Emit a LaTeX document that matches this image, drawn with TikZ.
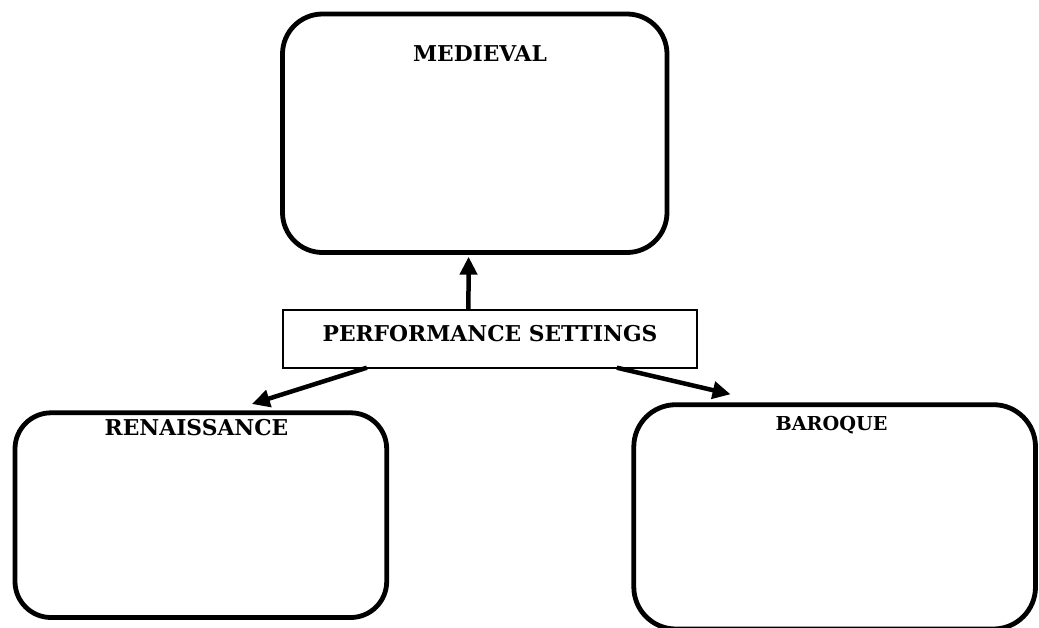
\documentclass[tikz,border=0pt]{standalone}
\usepackage{fontspec}
\setmainfont{DejaVu Serif}
\usetikzlibrary{arrows.meta,calc}
\begin{document}
\begin{tikzpicture}[x=1pt,y=-1pt,
  roundbox/.style={draw=black,line width=4.8pt,rounded corners=#1,inner sep=0pt,outer sep=0pt},
  psbox/.style={draw=black,line width=2pt,inner sep=0pt,outer sep=0pt},
  lbl/.style={font=\bfseries\fontsize{21.8}{26}\selectfont,inner sep=0pt,anchor=base},
  arr/.style={line width=4.5pt,-{Triangle[length=18pt,width=17pt]}}
]
\useasboundingbox (0,0) rectangle (1039,627);
\fill[white] (0,0) rectangle (1039,627);
\clip (0,0) rectangle (1039,627);
% boxes
\node[roundbox=40pt,minimum width=384.5pt,minimum height=238.5pt] (med) at (474.75,133.25) {};
\node[roundbox=36pt,minimum width=371.7pt,minimum height=204.7pt] (ren) at (200.85,515.15) {};
\node[roundbox=42pt,minimum width=401.7pt,minimum height=224.3pt] (bar) at (834.65,516.85) {};
\node[psbox,minimum width=414.6pt,minimum height=57.7pt] (ps) at (490,338.85) {};
% labels
\node[lbl] (medl) at (480,61.7) {MEDIEVAL};
\node[lbl] (renl) at (196.5,435) {RENAISSANCE};
\node[lbl,font=\bfseries\fontsize{19.2}{23}\selectfont] (barl) at (831.5,430) {BAROQUE};
\node[lbl] (psl) at (490,341.7) {PERFORMANCE SETTINGS};
% connectors
\coordinate (upS) at ($(ps.north west)!0.448!(ps.north east)$);
\coordinate (upT) at ($(med.south west)!0.484!(med.south east)+(0,4.2)$);
\coordinate (lS) at ($(ps.south west)!0.203!(ps.south east)$);
\coordinate (lT) at ($(ren.north west)!0.637!(ren.north east)+(0,-8.8)$);
\coordinate (rS) at ($(ps.south west)!0.806!(ps.south east)$);
\coordinate (rT) at ($(bar.north west)!0.241!(bar.north east)+(0,-10.4)$);
\draw[arr] (upS) -- (upT);
\draw[arr] (lS) -- (lT);
\draw[arr] (rS) -- (rT);
\end{tikzpicture}
\end{document}
